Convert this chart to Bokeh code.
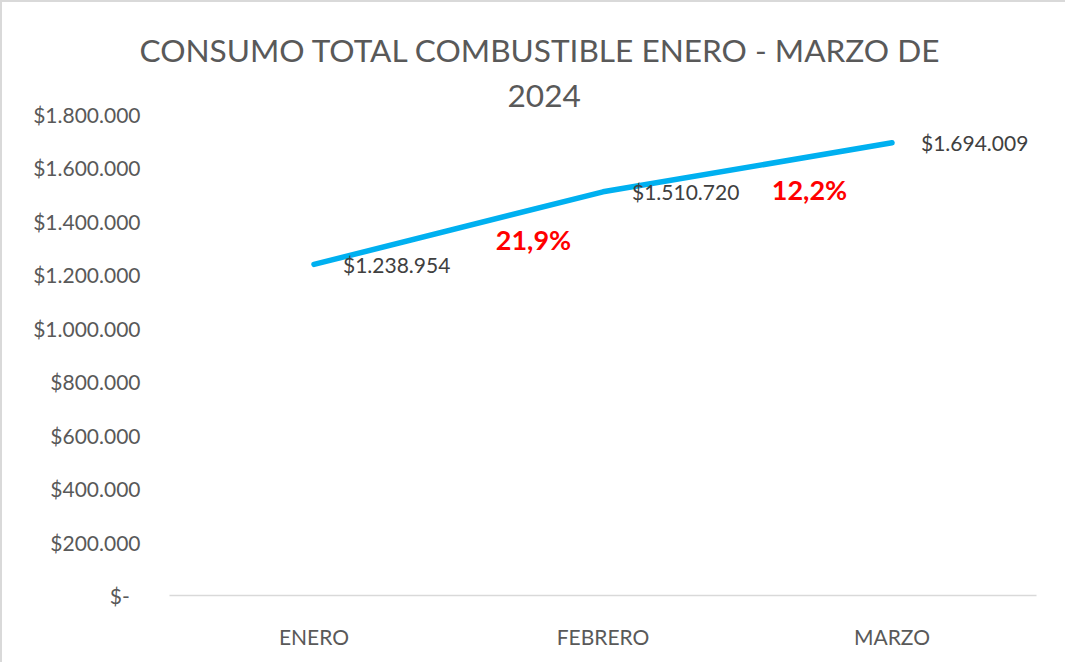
from bokeh.plotting import figure
from bokeh.models import Range1d, FixedTicker, ColumnDataSource, Title
from bokeh.core.properties import value
from bokeh.embed import file_html
from bokeh.resources import INLINE

# ---- data ----
months = ["ENERO", "FEBRERO", "MARZO"]
consumo = [1238954, 1510720, 1694009]
consumo_labels = ["$1.238.954", "$1.510.720", "$1.694.009"]
y_ticks = [0, 200000, 400000, 600000, 800000, 1000000, 1200000, 1400000, 1600000, 1800000]
y_tick_labels = ["$-\u00a0\u00a0", "$200.000", "$400.000", "$600.000", "$800.000",
                 "$1.000.000", "$1.200.000", "$1.400.000", "$1.600.000", "$1.800.000"]
pct_labels = ["21,9%", "12,2%"]
title_line1 = "CONSUMO TOTAL COMBUSTIBLE ENERO - MARZO DE"
title_line2 = "2024"

FONT = "Lato"
GREY = "#595959"

xs = [i + 0.5 for i in range(len(months))]

p = figure(width=1065, height=662, output_backend="svg", toolbar_location=None,
           x_range=Range1d(0, len(months)), y_range=Range1d(0, 1800000),
           min_border_left=167, min_border_right=31, min_border_top=112, min_border_bottom=69)
p.styles = {"border-top": "2px solid #d9d9d9", "border-left": "2px solid #d9d9d9"}
p.outline_line_color = None
p.background_fill_color = "white"
p.xgrid.visible = False
p.ygrid.visible = False

# titles (first added is nearest the frame); left-aligned with offsets so the
# block is centred on the whole chart rather than on the plot frame
t2 = Title(text=title_line2, align="left", text_font=FONT, text_font_size="31.6px",
           text_color=GREY, text_font_style="normal", offset=338, standoff=15)
t1 = Title(text=title_line1, align="left", text_font=FONT, text_font_size="31.6px",
           text_color=GREY, text_font_style="normal", offset=-30, standoff=13)
p.add_layout(t2, "above")
p.add_layout(t1, "above")

# axes
p.xaxis.ticker = FixedTicker(ticks=xs)
p.xaxis.major_label_overrides = {x: m for x, m in zip(xs, months)}
p.xaxis.axis_line_color = "#d9d9d9"
p.xaxis.axis_line_width = 1.5
p.xaxis.major_tick_line_color = None
p.xaxis.minor_tick_line_color = None
p.xaxis.major_label_standoff = 22
p.xaxis.major_label_text_font = FONT
p.xaxis.major_label_text_font_size = "21px"
p.xaxis.major_label_text_color = GREY

p.yaxis.ticker = FixedTicker(ticks=y_ticks)
p.yaxis.major_label_overrides = {t: l for t, l in zip(y_ticks, y_tick_labels)}
p.yaxis.axis_line_color = None
p.yaxis.major_tick_line_color = None
p.yaxis.minor_tick_line_color = None
p.yaxis.major_label_standoff = 23
p.yaxis.major_label_text_font = FONT
p.yaxis.major_label_text_font_size = "21px"
p.yaxis.major_label_text_color = GREY

# line
src = ColumnDataSource(dict(x=xs, y=consumo, lab=consumo_labels))
p.line("x", "y", source=src, line_color="#00B0F0", line_width=5.5, line_cap="round", line_join="round")
p.text("x", "y", text="lab", source=src, x_offset=29, text_align="left", text_baseline="middle",
       text_font=value(FONT), text_font_size="21px", text_color="#404040")

# percentage change labels, placed near the middle of each segment
mid_x = [(xs[i] + xs[i + 1]) / 2 for i in range(len(xs) - 1)]
mid_y = [(consumo[i] + consumo[i + 1]) / 2 for i in range(len(consumo) - 1)]
psrc = ColumnDataSource(dict(x=mid_x, y=mid_y, lab=pct_labels, dx=[75, 62], dy=[11, 22]))
p.text("x", "y", text="lab", source=psrc, x_offset="dx", y_offset="dy", text_align="center",
       text_baseline="middle", text_font=value(FONT), text_font_style="bold",
       text_font_size="27px", text_color="#FF0000")

open("out.html", "w").write(file_html(p, INLINE))
